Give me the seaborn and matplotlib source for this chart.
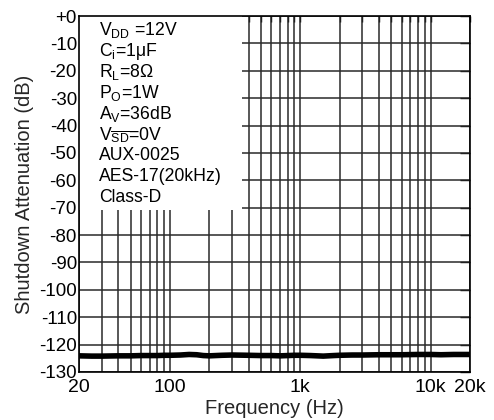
import matplotlib
matplotlib.use("Agg")
import matplotlib.pyplot as plt
import matplotlib.patches as mpatches
from matplotlib.ticker import FixedLocator, NullFormatter
import numpy as np
import pandas as pd
import seaborn as sns

# Shutdown attenuation versus frequency
freq_hz = [20, 25, 30, 40, 50, 60, 70, 80, 90, 100, 120, 140, 160, 180, 200,
           250, 300, 400, 500, 600, 700, 800, 900, 1000, 1200, 1500, 1800,
           2000, 2500, 3000, 4000, 5000, 6000, 8000, 10000, 12000, 15000, 20000]
atten_db = [-124.1, -124.2, -124.2, -124.1, -124.1, -124.0, -124.0, -124.0,
            -123.9, -123.9, -123.8, -123.6, -123.7, -124.0, -124.1, -123.9,
            -123.8, -123.9, -124.0, -124.0, -124.1, -124.0, -123.9, -123.9,
            -124.0, -124.2, -124.0, -123.9, -123.8, -123.8, -123.7, -123.7,
            -123.7, -123.6, -123.6, -123.7, -123.6, -123.6]

x_major = [20, 100, 1000, 10000, 20000]
x_major_labels = ["20", "100", "1k", "10k", "20k"]
x_grid = [20, 30, 40, 50, 60, 70, 80, 90, 100, 200, 300, 400, 500, 600, 700,
          800, 900, 1000, 2000, 3000, 4000, 5000, 6000, 7000, 8000, 9000,
          10000, 20000]
y_major = list(range(0, -140, -10))
y_major_labels = ["+0"] + [str(v) for v in y_major[1:]]

conditions = [
    r"V$_{\rm DD}$ =12V",
    r"C$_{\rm i}$=1μF",
    r"R$_{\rm L}$=8Ω",
    r"P$_{\rm O}$=1W",
    r"A$_{\rm V}$=36dB",
    r"V$_{\overline{\rm SD}}$=0V",
    "AUX-0025",
    "AES-17(20kHz)",
    "Class-D",
]

sns.set_theme(style="white")
plt.rcParams["font.family"] = ["Liberation Sans", "DejaVu Sans"]
plt.rcParams["mathtext.fontset"] = "custom"
plt.rcParams["mathtext.rm"] = "Liberation Sans"
plt.rcParams["mathtext.it"] = "Liberation Sans:italic"
plt.rcParams["mathtext.bf"] = "Liberation Sans:bold"

fig = plt.figure(figsize=(4.94, 4.2), dpi=100)
ax = fig.add_axes([0.160, 0.1143, 0.791, 0.8476])

df = pd.DataFrame({"freq": freq_hz, "atten": atten_db})
sns.lineplot(data=df, x="freq", y="atten", ax=ax, color="black",
             linewidth=4.0, zorder=3)

ax.set_xscale("log")
ax.set_xlim(20, 20000)
ax.set_ylim(-130, 0)

# grid drawn as plain lines so the condition box can sit over it
for f in x_grid:
    ax.axvline(f, color="#2a2a2a", linewidth=1.1, zorder=0.6)
for v in y_major:
    ax.axhline(v, color="#2a2a2a", linewidth=1.1, zorder=0.6)

box = mpatches.Rectangle((0, 0.455), 0.417, 0.545, transform=ax.transAxes,
                         facecolor="white", edgecolor="none", zorder=0.8)
ax.add_patch(box)

y0 = 1 - (30 - 16) / 356
step = 21.0 / 356
for i, line in enumerate(conditions):
    ax.text(0.051, y0 - i * step, line, transform=ax.transAxes, fontsize=12.7,
            ha="left", va="center", color="black", zorder=1)

ax.xaxis.set_major_locator(FixedLocator(x_major))
ax.set_xticklabels(x_major_labels)
ax.xaxis.set_minor_locator(FixedLocator([f for f in x_grid if f not in x_major]))
ax.xaxis.set_minor_formatter(NullFormatter())
ax.yaxis.set_major_locator(FixedLocator(y_major))
ax.set_yticklabels(y_major_labels)
ax.yaxis.set_minor_locator(FixedLocator(list(range(0, -131, -1))))

ax.tick_params(axis="both", which="both", direction="in", colors="black",
               top=True, right=True)
ax.tick_params(axis="x", which="major", length=4, width=1, pad=5,
               labelsize=14)
ax.tick_params(axis="x", which="minor", length=4, width=1)
ax.tick_params(axis="y", which="major", length=7, width=1, pad=1.5,
               labelsize=13.5)
ax.tick_params(axis="y", which="minor", length=2, width=0.6, right=False)

for s in ax.spines.values():
    s.set_color("black")
    s.set_linewidth(1.2)
    s.set_zorder(4)

ax.set_xlabel("Frequency (Hz)", fontsize=14.5, labelpad=2.5)
ax.set_ylabel("Shutdown Attenuation (dB)", fontsize=14.5, labelpad=4)

fig.savefig("out.png", dpi=100, facecolor="white")
